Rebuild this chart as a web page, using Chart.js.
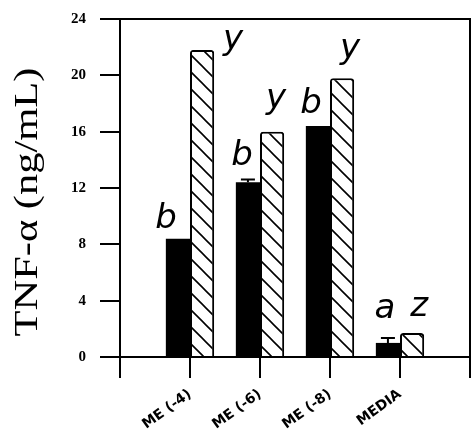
<!DOCTYPE html>
<html>
<head>
<meta charset="utf-8">
<script src="https://cdn.jsdelivr.net/npm/chart.js@4/dist/chart.umd.min.js"></script>
<style>
html,body{margin:0;padding:0;background:#fff;}
canvas{display:block;}
</style>
</head>
<body>
<canvas id="c" width="474" height="444"></canvas>
<script>
// ---- data ----
const categories = ['', 'ME (-4)', 'ME (-6)', 'ME (-8)', 'MEDIA', ''];
const solidValues = [null, 8.4, 12.4, 16.4, 1.0, null];
const solidErrors = [null, 0, 0.2, 0, 0.35, null];
const hatchValues = [null, 21.8, 16.0, 19.8, 1.7, null];
const solidLetters = [null, 'b', 'b', 'b', 'a', null];
const hatchLetters = [null, 'y', 'y', 'y', 'z', null];
const yTicks = [0, 4, 8, 12, 16, 20, 24];
const yTitle = 'TNF-\u03b1 (ng/mL)';

// ---- style (placement of the hand-written letters relative to their bars) ----
const solidLetterStyle = [null, [-12, 11], [-6, 17], [-7, 13], [-3, 25], null];
const hatchLetterStyle = [null, [31, 1], [4, 24], [8, 20], [7, 17], null];

function hatchPattern() {
  const s = 17;
  const c = document.createElement('canvas');
  c.width = s; c.height = s;
  const g = c.getContext('2d');
  g.fillStyle = '#fff';
  g.fillRect(0, 0, s, s);
  g.strokeStyle = '#000';
  g.lineWidth = 1.6;
  g.beginPath();
  g.moveTo(-2, -2); g.lineTo(s + 2, s + 2);
  g.moveTo(-s - 2, -2); g.lineTo(2, s + 2);
  g.moveTo(s - 2, -2); g.lineTo(2 * s + 2, s + 2);
  g.stroke();
  return g.createPattern(c, 'repeat');
}

const ctx0 = document.getElementById('c').getContext('2d');

const decorPlugin = {
  id: 'decor',
  afterDatasetsDraw(chart) {
    const ctx = chart.ctx;
    const ys = chart.scales.y;
    const a = chart.chartArea;
    ctx.save();
    // top and right frame
    ctx.strokeStyle = '#000';
    ctx.lineWidth = 2;
    ctx.beginPath();
    ctx.moveTo(a.left, a.top);
    ctx.lineTo(a.right, a.top);
    ctx.lineTo(a.right, a.bottom);
    ctx.stroke();
    // error caps on solid bars
    const m0 = chart.getDatasetMeta(0);
    m0.data.forEach((bar, i) => {
      const v = solidValues[i], e = solidErrors[i];
      if (v == null || !e) return;
      const yTop = ys.getPixelForValue(v + e);
      ctx.lineWidth = 2;
      ctx.beginPath();
      ctx.moveTo(bar.x, bar.y);
      ctx.lineTo(bar.x, yTop);
      ctx.moveTo(bar.x - 7, yTop);
      ctx.lineTo(bar.x + 7, yTop);
      ctx.stroke();
    });
    // letters
    ctx.fillStyle = '#000';
    ctx.font = 'oblique 34px "DejaVu Sans"';
    ctx.textAlign = 'center';
    ctx.textBaseline = 'alphabetic';
    const m1 = chart.getDatasetMeta(1);
    m0.data.forEach((bar, i) => {
      if (!solidLetters[i]) return;
      const st = solidLetterStyle[i];
      ctx.fillText(solidLetters[i], bar.x + st[0], bar.y - st[1]);
    });
    m1.data.forEach((bar, i) => {
      if (!hatchLetters[i]) return;
      const st = hatchLetterStyle[i];
      ctx.fillText(hatchLetters[i], bar.x + st[0], bar.y - st[1]);
    });
    // y axis title
    ctx.save();
    ctx.translate(28, (a.top + a.bottom) / 2 + 14);
    ctx.rotate(-Math.PI / 2);
    ctx.scale(1.25, 1);
    ctx.font = '34px "Liberation Serif"';
    ctx.textAlign = 'center';
    ctx.textBaseline = 'middle';
    ctx.fillText(yTitle, 0, 0);
    ctx.restore();
    ctx.restore();
  }
};

new Chart(ctx0, {
  type: 'bar',
  data: {
    labels: categories,
    datasets: [
      {
        data: solidValues,
        backgroundColor: '#000',
        borderWidth: 0,
        categoryPercentage: 0.69,
        barPercentage: 1.0
      },
      {
        data: hatchValues,
        backgroundColor: hatchPattern(),
        borderColor: '#000',
        borderWidth: 2,
        borderRadius: 3,
        categoryPercentage: 0.69,
        barPercentage: 1.0
      }
    ]
  },
  options: {
    responsive: false,
    animation: false,
    devicePixelRatio: 1,
    layout: { padding: { top: 19, right: 4, left: 0, bottom: 0 } },
    plugins: { legend: { display: false }, tooltip: { enabled: false }, title: { display: false } },
    scales: {
      x: {
        type: 'category',
        offset: false,
        afterFit(scale) {
          scale.height = 87;
          scale.paddingLeft = 0; scale.paddingRight = 0;
        },
        grid: {
          display: true,
          offset: false,
          drawOnChartArea: false,
          drawTicks: true,
          tickLength: 21,
          color: '#000',
          lineWidth: 2
        },
        border: { display: true, color: '#000', width: 2 },
        ticks: {
          autoSkip: false,
          maxRotation: 36,
          minRotation: 36,
          padding: 8,
          color: '#000',
          font: { family: '"DejaVu Sans"', weight: 'bold', size: 14 }
        }
      },
      y: {
        min: 0,
        max: 24,
        afterFit(scale) {
          scale.width = 120;
          scale.paddingTop = 0; scale.paddingBottom = 0;
        },
        afterBuildTicks(scale) { scale.ticks = yTicks.map(v => ({ value: v })); },
        grid: {
          display: true,
          drawOnChartArea: false,
          drawTicks: true,
          tickLength: 20,
          color: '#000',
          lineWidth: 2
        },
        border: { display: true, color: '#000', width: 2 },
        ticks: {
          padding: 14,
          color: '#000',
          font: { family: '"Liberation Serif"', weight: 'bold', size: 15 }
        },
        title: { display: false }
      }
    }
  },
  plugins: [decorPlugin]
});
</script>
</body>
</html>
